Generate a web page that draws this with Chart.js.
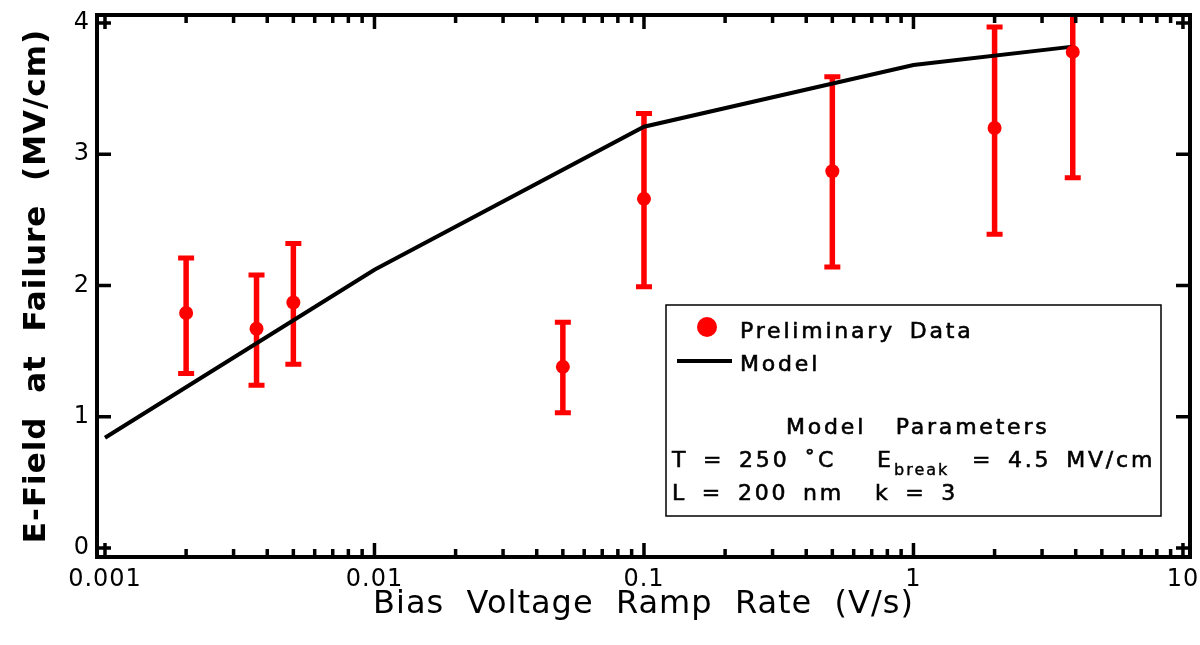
<!DOCTYPE html>
<html>
<head>
<meta charset="utf-8">
<script src="https://cdn.jsdelivr.net/npm/chart.js@4.4.0/dist/chart.umd.min.js"></script>
<style>body{margin:0;background:#fff}</style>
</head>
<body>
<canvas id="chartArea" width="1200" height="645"></canvas>
<script>
// measured data (ramp rate in V/s, field in MV/cm)
var rampRates = [0.002, 0.00365, 0.005, 0.05, 0.1, 0.5, 2, 3.9];
var fieldValues = [1.79, 1.67, 1.87, 1.38, 2.66, 2.87, 3.2, 3.78];
var errLow = [1.33, 1.24, 1.40, 1.03, 1.99, 2.14, 2.39, 2.82];
var errHigh = [2.21, 2.08, 2.32, 1.72, 3.31, 3.59, 3.97, 4.74];

// model curve
var modelRates = [0.001, 0.01, 0.1, 1, 3.9];
var modelField = [0.84, 2.12, 3.21, 3.68, 3.82];

var xTickValues = [0.001, 0.01, 0.1, 1, 10];
var yTickValues = [0, 1, 2, 3, 4];

var FONT = "'DejaVu Sans', sans-serif";

// slightly spaced lettering for axis text
var spacing = {
    id: 'spacing',
    beforeDraw: function(chart) { chart.ctx.letterSpacing = '1px'; }
};

// error bars under the lines, clipped to plot area
var errorBars = {
    id: 'errorBars',
    beforeDatasetsDraw: function(chart) {
        var ctx = chart.ctx, xs = chart.scales.x, ys = chart.scales.y, a = chart.chartArea;
        ctx.save();
        ctx.beginPath();
        ctx.rect(a.left, a.top, a.right - a.left, a.bottom - a.top);
        ctx.clip();
        ctx.strokeStyle = '#ff0000';
        rampRates.forEach(function(r, i) {
            var px = xs.getPixelForValue(r);
            var lo = ys.getPixelForValue(errLow[i]);
            var hi = ys.getPixelForValue(errHigh[i]);
            ctx.lineWidth = 5.5;
            ctx.beginPath();
            ctx.moveTo(px, lo); ctx.lineTo(px, hi);
            ctx.stroke();
            ctx.lineWidth = 5;
            ctx.beginPath();
            ctx.moveTo(px - 8, lo); ctx.lineTo(px + 8, lo);
            ctx.moveTo(px - 8, hi); ctx.lineTo(px + 8, hi);
            ctx.stroke();
        });
        ctx.restore();
    }
};

// box frame with inward ticks on all four sides
var frameTicks = {
    id: 'frameTicks',
    afterDraw: function(chart) {
        var ctx = chart.ctx, xs = chart.scales.x, ys = chart.scales.y, a = chart.chartArea;
        ctx.save();
        ctx.strokeStyle = '#000';
        ctx.lineWidth = 3.5;
        ctx.beginPath();
        xTickValues.forEach(function(v) {
            var px = xs.getPixelForValue(v);
            ctx.moveTo(px, a.bottom); ctx.lineTo(px, a.bottom - 14);
            ctx.moveTo(px, a.top); ctx.lineTo(px, a.top + 14);
        });
        for (var d = 0.001; d < 10; d *= 10) {
            for (var m = 2; m < 10; m++) {
                var px = xs.getPixelForValue(d * m);
                ctx.moveTo(px, a.bottom); ctx.lineTo(px, a.bottom - 8);
                ctx.moveTo(px, a.top); ctx.lineTo(px, a.top + 8);
            }
        }
        yTickValues.forEach(function(v) {
            var py = ys.getPixelForValue(v);
            ctx.moveTo(a.left, py); ctx.lineTo(a.left + 14, py);
            ctx.moveTo(a.right, py); ctx.lineTo(a.right - 14, py);
        });
        ctx.stroke();
        ctx.lineWidth = 4;
        ctx.strokeRect(a.left, a.top, a.right - a.left, a.bottom - a.top);
        ctx.restore();
    }
};

// legend + model parameter box
var legendBox = {
    id: 'legendBox',
    afterDraw: function(chart) {
        var ctx = chart.ctx, a = chart.chartArea;
        var bx = a.left + 569, by = 305, bw = 495, bh = 211;
        ctx.save();
        ctx.fillStyle = '#fff';
        ctx.fillRect(bx, by, bw, bh);
        ctx.strokeStyle = '#000';
        ctx.lineWidth = 1.5;
        ctx.strokeRect(bx, by, bw, bh);

        ctx.fillStyle = '#ff0000';
        ctx.beginPath();
        ctx.arc(bx + 41, by + 22, 10, 0, Math.PI * 2);
        ctx.fill();
        ctx.strokeStyle = '#000';
        ctx.lineWidth = 4;
        ctx.beginPath();
        ctx.moveTo(bx + 11, by + 56); ctx.lineTo(bx + 66, by + 56);
        ctx.stroke();

        ctx.fillStyle = '#000';
        ctx.strokeStyle = '#000';
        ctx.lineWidth = 0.6;
        ctx.textBaseline = 'alphabetic';
        ctx.textAlign = 'left';
        ctx.letterSpacing = '2.8px';
        ctx.wordSpacing = '5px';
        ctx.font = '22px ' + FONT;
        var runs = [
            ['Preliminary Data', 74, 33],
            ['Model', 74, 66],
            ['Model  Parameters', 120, 129],
            ['T = 250 \u02DAC', 6, 162],
            ['E', 211, 162],
            ['= 4.5 MV/cm', 306, 162],
            ['L = 200 nm', 6, 195],
            ['k = 3', 209, 195]
        ];
        runs.forEach(function(t) {
            ctx.fillText(t[0], bx + t[1], by + t[2]);
            ctx.strokeText(t[0], bx + t[1], by + t[2]);
        });
        ctx.letterSpacing = '2px';
        ctx.font = '16px ' + FONT;
        ctx.fillText('break', bx + 228, by + 170);
        ctx.lineWidth = 0.4;
        ctx.strokeText('break', bx + 228, by + 170);
        ctx.restore();
    }
};

var ctx = document.getElementById('chartArea').getContext('2d');
var myChart = new Chart(ctx, {
    type: 'line',
    data: {
        datasets: [{
            label: 'Preliminary Data',
            data: rampRates.map(function(r, i) { return {x: r, y: fieldValues[i]}; }),
            showLine: false,
            pointRadius: 7,
            pointBackgroundColor: '#ff0000',
            pointBorderWidth: 0,
            borderColor: '#ff0000'
        }, {
            label: 'Model',
            data: modelRates.map(function(r, i) { return {x: r, y: modelField[i]}; }),
            borderColor: '#000',
            borderWidth: 4,
            pointRadius: 0,
            tension: 0,
            fill: false
        }]
    },
    options: {
        responsive: false,
        animation: false,
        layout: { padding: { top: 15, right: 10, left: 0, bottom: 0 } },
        plugins: { legend: { display: false }, tooltip: { enabled: false } },
        scales: {
            x: {
                type: 'logarithmic',
                position: 'bottom',
                min: 0.000934,
                max: 10.62,
                afterBuildTicks: function(s) { s.ticks = xTickValues.map(function(v) { return {value: v}; }); },
                afterFit: function(s) { s.height = 88; s.paddingLeft = 0; s.paddingRight = 0; },
                grid: { display: false, drawTicks: false },
                border: { display: false },
                ticks: {
                    color: '#000',
                    padding: 8,
                    maxRotation: 0,
                    font: { family: FONT, size: 24 },
                    callback: function(v) { return String(v); }
                },
                title: {
                    display: true,
                    text: 'Bias  Voltage  Ramp  Rate  (V/s)',
                    color: '#000',
                    font: { family: FONT, size: 32 },
                    padding: { top: 0, bottom: 21 }
                }
            },
            y: {
                min: -0.069,
                max: 4.061,
                afterBuildTicks: function(s) { s.ticks = yTickValues.map(function(v) { return {value: v}; }); },
                afterFit: function(s) { s.width = 97; s.paddingTop = 0; s.paddingBottom = 0; },
                grid: { display: false, drawTicks: false },
                border: { display: false },
                ticks: {
                    color: '#000',
                    padding: 7,
                    font: { family: FONT, size: 24 }
                },
                title: {
                    display: true,
                    text: 'E-Field  at  Failure  (MV/cm)',
                    color: '#000',
                    font: { family: FONT, size: 31, weight: 'bold' },
                    padding: { top: 18, bottom: 0 }
                }
            }
        }
    },
    plugins: [spacing, errorBars, frameTicks, legendBox]
});
</script>
</body>
</html>
